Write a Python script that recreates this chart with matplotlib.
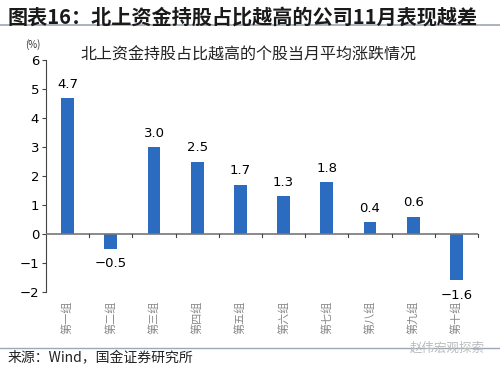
import numpy as np
import matplotlib.pyplot as plt
from matplotlib.lines import Line2D

plt.rcParams['font.family'] = ['Noto Sans CJK SC', 'DejaVu Sans']

# data
groups = ['第一组', '第二组', '第三组', '第四组', '第五组',
          '第六组', '第七组', '第八组', '第九组', '第十组']
values = [4.7, -0.5, 3.0, 2.5, 1.7, 1.3, 1.8, 0.4, 0.6, -1.6]
yticks = [-2, -1, 0, 1, 2, 3, 4, 5, 6]

fig = plt.figure(figsize=(5, 3.71), dpi=100)
ax = fig.add_axes([0.092, 0.213, 0.864, 0.625])

x = np.arange(len(groups))
ax.bar(x, values, width=0.3, color='#2b6cc0', zorder=3)

# value labels
for xi, v in zip(x, values):
    if v >= 0:
        ax.text(xi, v + 0.25, f'{v:.1f}', ha='center', va='bottom', fontsize=9.5,
                family='DejaVu Sans')
    else:
        ax.text(xi, v - 0.3, f'{v:.1f}'.replace('-', '\u2212'), ha='center',
                va='top', fontsize=9.5, family='DejaVu Sans')

ax.set_xlim(-0.5, len(groups) - 0.5)
ax.set_ylim(-2, 6)
ax.set_yticks(yticks)
ax.set_yticklabels([str(t).replace('-', '\u2212') for t in yticks], family='DejaVu Sans')
ax.tick_params(axis='y', labelsize=9.5, length=3, color='#444444', pad=2)

# zero line with ticks at group boundaries
ax.axhline(0, color='#777777', lw=1.2, zorder=4)
for b in np.arange(-0.5, len(groups), 1.0)[1:]:
    ax.plot([b, b], [0, -0.1], color='#444444', lw=0.8, zorder=4, clip_on=False)
ax.set_xticks([])
for xi, g in zip(x, groups):
    ax.text(xi, -2.3, g, rotation=90, ha='center', va='top', fontsize=8,
            color='#888888')

for s in ['top', 'right', 'bottom']:
    ax.spines[s].set_visible(False)
ax.spines['left'].set_color('#444444')

# titles and notes
fig.text(0.016, 0.955, '图表16：北上资金持股占比越高的公司11月表现越差', fontsize=14.5,
         fontweight='bold', style='italic', color='#1a1a1a', va='center')
fig.add_artist(Line2D([0, 1], [0.933, 0.933], color='#9aa8b8', lw=1.2))
fig.text(0.16, 0.852, '北上资金持股占比越高的个股当月平均涨跌情况', fontsize=11.5,
         va='center', color='#222222')
fig.text(0.066, 0.88, '(%)', fontsize=7, ha='center', va='center', color='#333333')
fig.add_artist(Line2D([0, 1], [0.062, 0.062], color='#9aa8b8', lw=1.0))
fig.text(0.016, 0.035, '来源：Wind，国金证券研究所', fontsize=10, va='center',
         color='#222222')
fig.text(0.97, 0.062, '赵伟宏观探索', fontsize=9, ha='right', va='center',
         color='#bbbbbb')

plt.savefig('out.png', dpi=100)
